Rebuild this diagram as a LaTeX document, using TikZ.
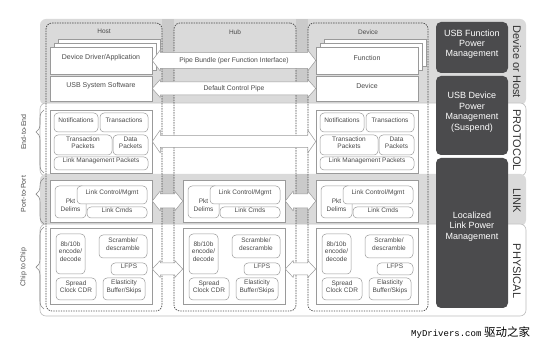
\documentclass[tikz,border=0pt]{standalone}
\usepackage{fontspec}
\setmainfont{Liberation Sans}
\newfontfamily\wmmono{Liberation Mono}
\newfontfamily\wmcjk{Noto Sans CJK SC}
\usepackage{xcolor}
\usepackage{tikz}
\usetikzlibrary{positioning, calc, fit, decorations.pathreplacing}

\definecolor{bandgray}{HTML}{DADADA}
\definecolor{gapgray}{HTML}{CACACA}
\definecolor{bandline}{HTML}{BDBDBD}
\definecolor{boxline}{HTML}{9A9A9A}
\definecolor{dashline}{HTML}{4A4A4A}
\definecolor{pmgray}{HTML}{4B4B4D}
\definecolor{txtgray}{HTML}{4A4A4A}
\definecolor{tabgray}{HTML}{333333}
\definecolor{braceline}{HTML}{8A8A8A}

% hollow two-headed block arrow: start, end, half shaft, head overhang
\newcommand{\fatarrow}[4]{%
  \draw[fatarr] let \p1=#1, \p2=#2 in
    (\x1,\y1) -- (\x1+8pt,\y1+#3+#4) -- (\x1+8pt,\y1+#3) -- (\x2-8pt,\y1+#3)
    -- (\x2-8pt,\y1+#3+#4) -- (\x2,\y1) -- (\x2-8pt,\y1-#3-#4) -- (\x2-8pt,\y1-#3)
    -- (\x1+8pt,\y1-#3) -- (\x1+8pt,\y1-#3-#4) -- cycle;}

\begin{document}
\begin{tikzpicture}[
    x=1pt, y=-1pt,
    grayband/.style={rounded corners=6pt, fill=bandgray},
    whiteband/.style={rounded corners=6pt, fill=white, draw=bandline, line width=0.6pt},
    colbox/.style={draw=dashline, dash pattern=on 1.4pt off 1.1pt, line width=0.7pt, rounded corners=6pt, inner sep=0pt},
    coltxt/.style={font=\fontsize{6.5}{7.5}\selectfont, text=txtgray, inner sep=0pt},
    layerbox/.style={draw=boxline, fill=white, line width=0.5pt, inner sep=0pt},
    topbox/.style={layerbox, font=\fontsize{7}{8}\selectfont, text=txtgray},
    inbox/.style={draw=boxline, fill=white, line width=0.5pt, rounded corners=4pt, inner sep=0pt,
        align=center, font=\fontsize{6.5}{7.4}\selectfont, text=txtgray},
    intxt/.style={align=center, font=\fontsize{6.5}{7.4}\selectfont, text=txtgray, inner sep=0pt},
    fatarr/.style={draw=boxline, fill=white, line width=0.5pt, line join=round},
    pipetxt/.style={font=\fontsize{6.8}{8}\selectfont, text=txtgray, inner sep=0pt},
    pmbox/.style={fill=pmgray, rounded corners=5pt, inner sep=0pt, text=white, align=center,
        font=\fontsize{9}{10.4}\selectfont},
    pmtxt/.style={text=white, align=center, font=\fontsize{9}{10.4}\selectfont, inner sep=0pt},
    tabtxt/.style={rotate=-90, font=\fontsize{11}{12}\selectfont, text=tabgray, inner sep=0pt},
    sidetxt/.style={rotate=90, font=\fontsize{7}{8}\selectfont, text=txtgray, inner sep=0pt},
    sidebrace/.style={decorate, draw=braceline, line width=0.6pt,
        decoration={brace, amplitude=8pt, aspect=#1}},
    sidebrace/.default=0.5
]
\useasboundingbox (0,0) rectangle (550,347);

% Layer bands
\fill[grayband] (40,19) rectangle (526,105);
\filldraw[whiteband] (40,103) rectangle (526,176);
\fill[grayband] (40,174) rectangle (526,226);
\filldraw[whiteband] (40,224) rectangle (526,316);

% darker strips between the columns
\foreach \gx in {162, 296} {
    \fill[gapgray] (\gx,19) rectangle (\gx+12,103);
    \fill[gapgray] (\gx,174) rectangle (\gx+12,224);
}

% Columns
\node[colbox, fit={(46,23) (162,311)}] (hostcol) {};
\node[colbox, fit={(174,23) (296,311)}] (hubcol) {};
\node[colbox, fit={(308,23) (428,311)}] (devcol) {};
\node[coltxt, below=6.5pt of hostcol.north] (hostlbl) {Host};
\node[coltxt, below=6.5pt of hubcol.north] (hublbl) {Hub};
\node[coltxt, below=6.5pt of devcol.north] (devlbl) {Device};

% Top layer
\node[topbox, fit={(50,47) (152,74)}, xshift=8pt, yshift=8pt] (hdrvc) {};
\node[topbox, fit={(50,47) (152,74)}, xshift=4pt, yshift=4pt] (hdrvb) {};
\node[topbox, fit={(50,47) (152,74)}] (hdrv) {Device Driver/Application};
\node[topbox, fit={(50,76) (152,101)}] (hsys) {USB System Software};

\node[topbox, fit={(316,47) (418,74)}, xshift=8pt, yshift=8pt] (ddrvc) {};
\node[topbox, fit={(316,47) (418,74)}, xshift=4pt, yshift=4pt] (ddrvb) {};
\node[topbox, fit={(316,47) (418,74)}] (ddrv) {Function};
\node[topbox, fit={(316,76) (418,101)}] (dsys) {Device};

% Protocol layer
\foreach \xl/\col in {50/h, 316/d} {
    \node[layerbox, fit={(\xl,110) (\xl+102,173)}] (\col proto) {};
    \node[inbox, fit={(\xl+4,113) (\xl+48,132)}] (\col notif) {Notifications};
    \node[inbox, fit={(\xl+50,113) (\xl+98,132)}] (\col trans) {Transactions};
    \node[inbox, fit={(\xl+4,135) (\xl+62,155)}] (\col tpkt) {Transaction\\Packets};
    \node[inbox, fit={(\xl+63,135) (\xl+98,155)}] (\col dpkt) {Data\\Packets};
    \node[inbox, fit={(\xl+4,157) (\xl+98,170)}] (\col lmp) {Link Management Packets};
}

% Link layer
\foreach \xl/\col in {50/h, 183/u, 316/d} {
    \node[layerbox, fit={(\xl,180) (\xl+102,222)}] (\col link) {};
    \node[inbox, fit={(\xl+5,186) (\xl+36,218)},
        label={[intxt, yshift=-3pt]center:Pkt\\Delims}] (\col delim) {};
    \node[inbox, fit={(\xl+27,186) (\xl+97,204)}] (\col ctrl) {Link Control/Mgmt};
    \node[inbox, fit={(\xl+37,207) (\xl+97,218)}] (\col cmds) {Link Cmds};
}

% Physical layer
\foreach \xl/\col in {50/h, 183/u, 316/d} {
    \node[layerbox, fit={(\xl,228) (\xl+102,304)}] (\col phy) {};
    \node[inbox, fit={(\xl+6,234) (\xl+35,274)}] (\col enc) {8b/10b\\encode/\\decode};
    \node[inbox, fit={(\xl+49,235) (\xl+97,258)}] (\col scr) {Scramble/\\descramble};
    \node[inbox, fit={(\xl+61,263) (\xl+97,275)}] (\col lfps) {LFPS};
    \node[inbox, fit={(\xl+6,278) (\xl+46,300)}] (\col cdr) {Spread\\Clock CDR};
    \node[inbox, fit={(\xl+53,278) (\xl+95,300)}] (\col ebuf) {Elasticity\\Buffer/Skips};
}

% Block arrows
\fatarrow{(hdrv.east)}{(ddrv.west)}{8pt}{2.5pt}
\fatarrow{(hsys.east)}{(dsys.west)}{6.5pt}{2.5pt}
\fatarrow{(hproto.east)}{(dproto.west)}{6pt}{5.5pt}
\fatarrow{(hlink.east)}{(ulink.west)}{7pt}{3pt}
\fatarrow{(ulink.east)}{(dlink.west)}{7pt}{3pt}
\fatarrow{(hphy.east |- hlfps.center)}{(uphy.west |- ulfps.center)}{6pt}{2.5pt}
\fatarrow{(uphy.east |- ulfps.center)}{(dphy.west |- dlfps.center)}{6pt}{2.5pt}
\node[pipetxt] (pipebundle) at ($(hdrv.east)!.5!(ddrv.west)$) {Pipe Bundle (per Function Interface)};
\node[pipetxt] (ctrlpipe) at ($(hsys.east)!.5!(dsys.west)$) {Default Control Pipe};

% Power management
\node[pmbox, fit={(436,22) (508,73)}] (funcpm) {USB Function\\Power\\Management};
\node[pmbox, fit={(436,76) (508,155)}] (devpm) {USB Device\\Power\\Management\\(Suspend)};
\node[pmbox, fit={(436,158) (508,308)},
    label={[pmtxt, yshift=6.5pt]center:Localized\\Link Power\\Management}] (linkpm) {};

% Layer tabs
\node[tabtxt] (hosttab) at (517,62) {Device or Host};
\node[tabtxt] (prototab) at (517,140) {PROTOCOL};
\node[tabtxt] (linktab) at (517,201) {LINK};
\node[tabtxt] (phytab) at (517,271) {PHYSICAL};

% Scope braces
\draw[sidebrace=0.65] (44,173) -- (44,110);
\draw[sidebrace=0.65] (44,224) -- (44,178);
\draw[sidebrace=0.51] (44,309) -- (44,227);
\node[sidetxt] (e2e) at (23.5,132) {End-to-End};
\node[sidetxt] (p2p) at (23.5,194) {Port-to-Port};
\node[sidetxt] (c2c) at (23.5,267) {Chip to Chip};

% Watermark
\node[anchor=west, inner sep=0pt] (wmark) at (411,333)
    {{\wmmono\fontsize{9}{10}\selectfont MyDrivers.com} {\wmcjk\fontsize{11.5}{12}\selectfont 驱动之家}};

\end{tikzpicture}
\end{document}
